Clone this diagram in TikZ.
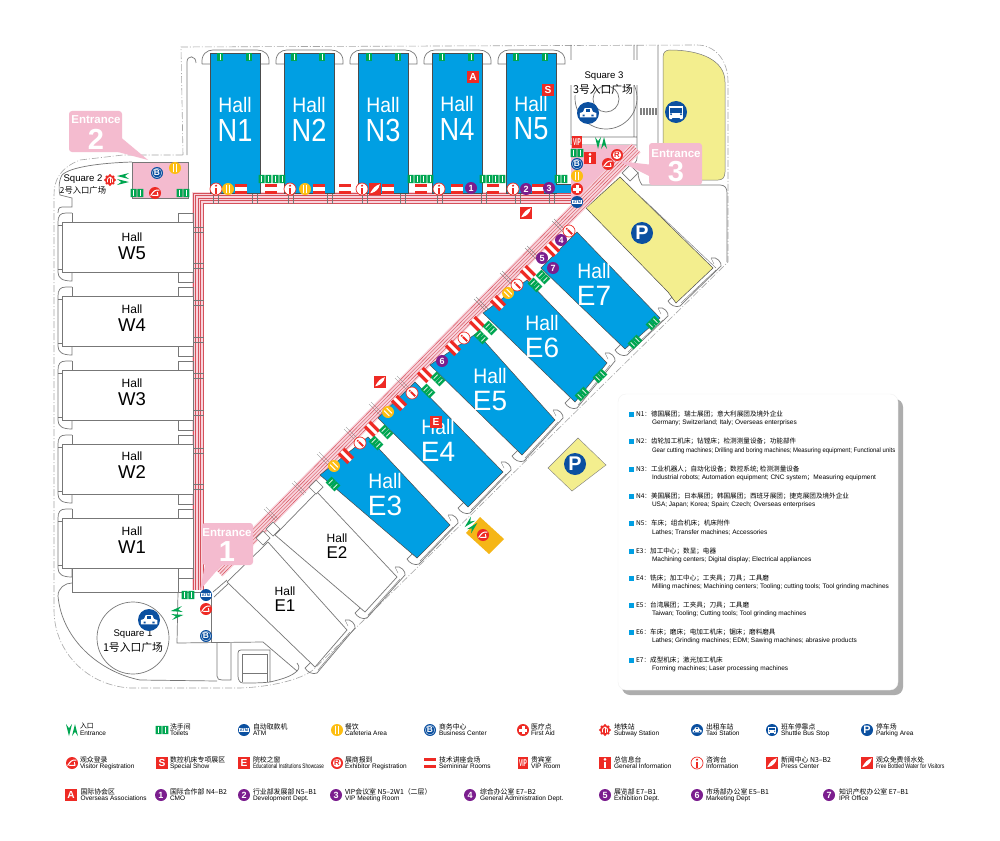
\documentclass[tikz,border=0pt]{standalone}
\usepackage{fontspec}
\setmainfont{Liberation Sans}
\newfontfamily\cjk{Noto Sans CJK SC}
\definecolor{hallblue}{HTML}{009FE3}
\definecolor{cred}{HTML}{EE2A24}
\definecolor{cblue}{HTML}{0B50A0}
\definecolor{cgreen}{HTML}{00A651}
\definecolor{cyel}{HTML}{FDBE12}
\definecolor{cpur}{HTML}{7B1E8E}
\definecolor{lot}{HTML}{F3EE8E}
\definecolor{pk}{HTML}{F4BBCF}
\definecolor{rdpk}{HTML}{F8D3DC}
\definecolor{rdln}{HTML}{D5505A}
\definecolor{gl}{HTML}{777777}
\definecolor{orng}{HTML}{F5B617}
\newcommand{\fs}[1]{\fontsize{#1}{#1}\selectfont}
\tikzset{
 rd/.style={draw=gl,line width=.7pt},
 bnd/.style={draw=gray!70,line width=.6pt,dash pattern=on 7pt off 2pt on 1pt off 2pt},
 tx/.style={inner sep=0pt,outer sep=0pt,black},
 itxt/.style={transform shape,inner sep=0pt,outer sep=0pt},
 pics/icinfo/.style={code={\fill[white](0,0)circle(10);\draw[cred,line width=.7pt](0,0)circle(10);
   \fill[cred](-1.7,-2.5)rectangle(1.7,7.5);\fill[cred](0,-5.5)circle(2);}},
 pics/iccafe/.style={code={\fill[cyel](0,0)circle(10);\draw[white,line width=1.1pt,line cap=round](-3,-6)--(-3,6)(3,-6)--(3,6);}},
 pics/icsem/.style={code={\fill[cred](-10,-9)rectangle(10,9);\fill[white](-10,-3)rectangle(10,3);}},
 pics/icseml/.style={code={\fill[cred](-11,-8)rectangle(11,8);\fill[white](-11,-2.5)rectangle(11,2.5);}},
 pics/icbiz/.style={code={\fill[cblue](0,0)circle(10);\draw[white,line width=.3pt](0,0)circle(8);\node[itxt,white,font=\bfseries\fs{14}]{B};}},
 pics/icatm/.style={code={\fill[cblue](0,0)circle(10);\fill[white](-9,-3.6)rectangle(9,3.6);\node[itxt,cblue,font=\bfseries\fs{6.5}]{ATM};}},
 pics/icvis/.style={code={\fill[cred](0,0)circle(10);\draw[white,line width=1pt,line cap=round](-7,4)..controls(-3,-3)and(1,-6)..(7,-5)(-4,4)--(5,4)(4,-1)--(5,4);}},
 pics/icent/.style={code={\fill[cgreen](-10,-10)--(-5,10)--(0,-10)--(-5,-3)--cycle;\fill[cgreen](0,10)--(5,-10)--(10,10)--(5,3)--cycle;}},
 pics/icl/.style={code={\fill[cred](-10,-10)rectangle(10,10);\node[itxt,white,font=\bfseries\fs{17}]{#1};}},
 pics/icn/.style={code={\fill[cpur](0,0)circle(10);\node[itxt,white,font=\bfseries\fs{15}]{#1};}},
 pics/icvip/.style={code={\fill[cred](-9,-10)rectangle(9,10);\node[itxt,white,font=\bfseries\fs{11}]{\scalebox{.75}[1.5]{VIP}};}},
 pics/icgen/.style={code={\fill[cred](-10,-10)rectangle(10,10);\fill[white](-2.2,-2.5)rectangle(2.2,8);\fill[white](0,-6)circle(2.4);}},
 pics/icpress/.style={code={\fill[cred](-10,-10)rectangle(10,10);\fill[white](-8,7)..controls(-4,-1)and(1,-6)..(8,-8)..controls(7,0)and(0,5)..(-4,6)--cycle;}},
 pics/icR/.style={code={\fill[cred](0,0)circle(10);\fill[white](0,0)circle(7);\node[itxt,cred,font=\bfseries\fs{13}]{R};}},
 pics/icaid/.style={code={\fill[cred](0,0)circle(10);\fill[white](-2.5,-6.5)rectangle(2.5,6.5);\fill[white](-6.5,-2.5)rectangle(6.5,2.5);}},
 pics/icsub/.style={code={\fill[cred](0,0)circle(8);\foreach \a in {0,45,...,315}{\fill[cred](\a:7.5)circle(2.6);}
   \draw[white,line width=.8pt](0,-5)--(0,5);\draw[white,line width=.8pt](-4,4)..controls(-5,-2)and(-3,-4)..(0,-5)..controls(3,-4)and(5,-2)..(4,4);}},
 pics/ictaxi/.style={code={\fill[cblue](0,0)circle(10);
   \fill[white](-7.5,4)--(-7.5,0)--(-4.5,-1)--(-3,-4.5)--(3,-4.5)--(4.5,-1)--(7.5,0)--(7.5,4)--cycle;
   \fill[cblue](-2.2,-3.4)rectangle(2.2,-1);\fill[cblue](-5,1.5)rectangle(-3,3)(3,1.5)rectangle(5,3);}},
 pics/icbus/.style={code={\fill[cblue](0,0)circle(10);\fill[white](-6.5,-5.5)rectangle(6.5,5);
   \fill[cblue](-5.2,-3.5)rectangle(5.2,.5);\fill[cblue](-4.5,2)circle(1)(4.5,2)circle(1);\fill[white](-6,5)rectangle(-3.5,6.5)(3.5,5)rectangle(6,6.5);}},
 pics/icP/.style={code={\fill[cblue](0,0)circle(10);\node[itxt,white,font=\bfseries\fs{18}]{P};}},
 pics/ictoil/.style={code={\fill[cgreen](-10.5,-7)rectangle(-.5,7)(.5,-7)rectangle(10.5,7);
   \draw[white,line width=.7pt,line cap=round](-5.5,-4.5)--(-5.5,4.5)(5.5,-4.5)--(5.5,4.5);}},
 pics/ictc/.style={code={\fill[cgreen](-5,-7)rectangle(5,7);\draw[white,line width=.7pt,line cap=round](0,-4.5)--(0,4.5);}}
}
\newcommand{\ic}[4][0]{\pic[scale=.6,rotate=#1,transform shape] at (#2,#3) {#4};}
\newcommand{\icb}[3]{\pic[scale=1.1,transform shape] at (#1,#2) {#3};}
\newcommand{\wcap}[1]{\draw[rd] (72,#1-9)--(66,#1-9)..controls(60,#1-9)and(58,#1-6)..(58,#1)--(58,#1+50)..controls(58,#1+56)and(62,#1+59)..(72,#1+59)--(72,#1+50);
 \draw[rd] (72,#1-9)--(72,#1) (62,#1)--(62,#1+50) (62,#1+3)--(58,#1+3) (62,#1+47)--(58,#1+47);}
\newcommand{\whall}[3]{\wcap{#1}\draw[rd,fill=white] (62,#1) rectangle (193,#1+50);
 \draw[rd] (178,#1-9) rectangle (193,#1) (178,#1+50) rectangle (193,#1+60);
 \node[tx,font=\fs{12}] (hall#2a) at (132,#3) {Hall};
 \node[tx,font=\fs{18.5}] (hall#2b) at (132,#3+16) {#2};}
\newcommand{\ecap}[4]{\draw[rd] (#1-2,#2-10)..controls(#1+4,#2-12)and(#1+9,#2-5)..(#1+8,#2-2)--(#3+2,#4+6)..controls(#3-2,#4+8)and(#3-8,#4+5)..(#3-10,#4+1)--(#3-4,#4-5);
 \draw[rd,line width=.4pt] (#1+3,#2+2)--(#3+3,#4+3) (#1-2,#2-10)--(#1+1,#2-4);}
\newcommand{\ncap}[1]{\draw[rd] (#1-8,64)..controls(#1-9,54)and(#1-3,50)..(#1+3,50)--(#1+47,50)..controls(#1+54,50)and(#1+60,54)..(#1+59,64)--(#1+50,64) (#1-8,64)--(#1,64);}
\newcommand{\nhall}[3]{\ncap{#1}\fill[hallblue,draw=black!70,line width=.5pt] (#1,53) rectangle (#1+50,193);
 \node[tx,white,font=\fs{21}] (hall#2a) at (#1+25,#3) {\scalebox{.92}[1]{Hall}};
 \node[tx,white,font=\fs{32}] (hall#2b) at (#1+25,#3+25) {\scalebox{.85}[1]{#2}};}
\newcommand{\ehall}[8]{\ecap{#3}{#4}{#5}{#6}\fill[hallblue,draw=black!70,line width=.5pt] (#1,#2)--(#3,#4)--(#5,#6)--(#7,#8)--cycle;}
\newcommand{\elbl}[3]{\node[tx,white,font=\fs{21}] (hall#1a) at (#2,#3) {\scalebox{.92}[1]{Hall}};
 \node[tx,white,font=\fs{28}] (hall#1b) at (#2,#3+25) {#1};}
\newcommand{\leg}[6]{\ic{#2}{#3}{#1}
 \node[tx,anchor=west,font=\cjk\fs{6.9}] at (#4,#3-3.6) {#5};
 \node[tx,anchor=west,font=\fs{6.5}] at (#4,#3+3.4) {#6};}
\newcommand{\plist}[3]{\fill[hallblue](628.5,#1-2.5)rectangle(633.5,#1+2.5);
 \node[tx,anchor=west,font=\cjk\fs{6.6}] at (636,#1) {#2};
 \node[tx,anchor=west,font=\fs{6.5}] at (652,#1+9.3) {#3};}
\begin{document}
\begin{tikzpicture}[x=1pt,y=-1pt]
\useasboundingbox (0,0) rectangle (1000,840);
\fill[white] (0,0) rectangle (1000,840);
% boundary
\draw[bnd] (183,155)--(181,47)--(697,45)..controls(715,45)and(728,60)..(728,82)--(728,262)--(313,670)..controls(300,680)and(270,687)..(240,688)--(130,688)..controls(85,685)and(54,650)..(54,610)--(54,195)..controls(54,180)and(60,168)..(80,160)--(123,155)--cycle;
% square 2 outline and north-west lines
\draw[rd] (187,155)--(187,62)..controls(187,55)and(196,55)..(196,63);
\draw[rd] (132,162)..controls(100,163)and(70,167)..(62,175)..controls(58,182)and(59,192)..(60,195)--(72,198)--(72,207)--(62,207)..controls(58,207)and(58,211)..(58,213);
% square 3
\draw[rd] (571,45)--(571,145) (637,45)--(637,158)..controls(637,162)and(634,164)..(630,166) (634,45)--(634,137) (571,137)--(637,137) (571,145)--(636,145) (658,45)--(658,150);
\draw[rd] (606,98) circle (31);
\fill[white] (570,60) rectangle (640,85);
\fill[white] (572,85) rectangle (630,95);
\draw[rd] (606,99) circle (13);
\foreach \x in {640,643,...,655}{\fill[gray](\x,108)rectangle(\x+1.5,115);}
% north yellow lot
\fill[lot,draw=gl,line width=.5pt] (663,57)..controls(663,52)and(666,50)..(670,50)..controls(700,50)and(725,60)..(725,82)--(725,172)..controls(725,178)and(722,180)..(718,180)--(663,180)--cycle;
% SE lines
\draw[rd] (638,172)..controls(638,178)and(640,182)..(642,185)--(720,185)..controls(725,185)and(727,188)..(727,193)--(727,262);
% parking lot
\ecap{713}{268}{678}{300}
\fill[lot,draw=black!70,line width=.5pt] (620,177)--(713,268)--(676,303)--(668,292)--(586,208)--cycle;
\draw[rd,line width=.4pt] (642,198)--(716,268);
\draw[rd,fill=white] (630,165)--(638,173)--(630,181)--(622,173)--cycle;
% pink plazas
\fill[pk] (571,145)--(636,145)--(583,200)--(571,200)--cycle;
\fill[pk,draw=gl,line width=.6pt] (132,162) rectangle (188,198);
% plaza 1 box
\draw[rd] (178,592)--(177,643)--(263,642)--(297,671)..controls(300,668)and(299,666)..(297,663);
\draw[rd] (211,597)--(211,643) (178,592)--(211,592);
\draw[rd] (297,671)..controls(292,676)and(283,679)..(270,682)..controls(262,683)and(252,683)..(243,683)..controls(240,683)and(238,680)..(238,676)--(238,653)..controls(238,651)and(239,650)..(241,650)--(270,650)--(270,682);
\draw[rd] (242,682)--(242,654)--(267,654)--(267,682) (242,673)--(267,673);
\draw[rd] (217,643)--(217,676)..controls(217,679)and(219,680)..(222,680)--(231,680)--(231,643);
\draw[rd] (72,583)..controls(65,583)and(58,588)..(58,596)..controls(62,640)and(100,672)..(140,680)--(217,681);
\draw[rd] (213,592)--(227,580) (214,597)--(229,583);
\draw[rd,fill=white] (133,638) circle (36);
% road bands
\draw[rdpk,line width=12pt] (571,198)--(198,198)--(198,590);
\draw[rdpk,line width=13pt] (636,148)--(218,572);
\foreach \o in {0,2.5,5,7.5,10}{\draw[rdln,line width=.4pt] (571,193+\o)--(193+\o,193+\o)--(193+\o,590);}
\foreach \o in {-5,-2.5,0,2.5,5}{\draw[rdln,line width=.4pt,shift={({\o*.71},{\o*.7})}] (636,148)--(218,572);}
\foreach \x in {213,252,288,327,362,400,437,481,515,549}{\draw[gl,line width=.35pt] (\x,192)--(\x,204) (\x+5,192)--(\x+5,204);}
\foreach \y in {227,263,300,337,373,410,448,484}{\draw[gl,line width=.35pt] (192,\y)--(204,\y) (192,\y+5)--(204,\y+5);}
\foreach \x/\y in {272/513,300/487,325/458,352/433,377/408,403/382,482/303,508/277,533/252,560/225}{\draw[gl,line width=.35pt] (\x-6,\y-6)--(\x+6,\y+6) (\x-8,\y-4)--(\x+4,\y+8);}
% West halls
\whall{222}{W5}{237}\whall{296}{W4}{309}\whall{370}{W3}{383}\whall{444}{W2}{456}\whall{518}{W1}{531}
\draw[rd] (72,568)--(72,592)--(178,592)--(178,568);
% North halls
\nhall{210}{N1}{105}\nhall{284}{N2}{105}\nhall{358}{N3}{105}\nhall{432}{N4}{104}\nhall{506}{N5}{104}
\fill[hallblue] (556,184) rectangle (571,193);
\draw[black!70,line width=.5pt] (556,184)--(571,184);
% East white halls
\ecap{347}{630}{315}{667}\ecap{397}{577}{365}{612}
\draw[rd,fill=white] (268,542)--(347,630)--(315,667)--(227,582)--cycle;
\draw[rd,fill=white] (317,492)--(397,577)--(365,612)--(275,535)--cycle;
\foreach \x/\y in {263/538,273/529,316/487}{\draw[rd,fill=white] (\x,\y-7)--(\x+7,\y)--(\x,\y+7)--(\x-7,\y)--cycle;}
\node[tx,font=\fs{12}] (hallE1a) at (285,591) {Hall};
\node[tx,font=\fs{17}] (hallE1b) at (285,606) {E1};
\node[tx,font=\fs{12}] (hallE2a) at (337,538) {Hall};
\node[tx,font=\fs{17}] (hallE2b) at (337,553) {E2};
% East blue halls
\ehall{368}{437}{450}{525}{417}{558}{320}{475}
\ehall{415}{382}{503}{472}{468}{507}{378}{418}
\ehall{477}{333}{555}{420}{522}{455}{430}{365}
\ehall{527}{280}{607}{363}{575}{402}{483}{313}
\ehall{577}{232}{660}{318}{625}{349}{541}{268}
\elbl{E3}{385}{481}\elbl{E4}{438}{427}\elbl{E5}{490}{376}\elbl{E6}{542}{323}\elbl{E7}{594}{271}
% diamonds
\fill[lot,draw=gray,line width=.4pt] (578,438)--(606,465)--(572,491)--(548,468)--cycle;
\fill[orng] (480,517)--(504,539)--(489,554)--(466,533)--cycle;
% square texts
\node[tx,font=\fs{9.6}] at (83,179) {Square 2};
\node[tx,font=\cjk\fs{8.3}] at (83,190) {2号入口广场};
\node[tx,font=\fs{9.6}] at (604,76) {Square 3};
\node[tx,font=\cjk\fs{10.8}] at (603,89) {3号入口广场};
\node[tx,font=\fs{9.6}] at (133,634) {Square 1};
\node[tx,font=\cjk\fs{10.8}] at (133,647) {1号入口广场};
% big icons
\icb{588}{113}{ictaxi}\icb{149}{620}{ictaxi}\icb{676}{112}{icbus}\icb{642}{233}{icP}\icb{575}{464}{icP}
% north icons
\foreach \x in {216,290,362,439,513}{\ic{\x}{189}{icinfo}}
\foreach \x in {228,305}{\ic{\x}{189}{iccafe}}
\foreach \x in {241,271,319,345,388,421,457,493,538}{\ic{\x}{189}{icsem}}
\ic{375}{189}{icpress}
\ic{471}{188}{icn=1}\ic{526}{189}{icn=2}\ic{549}{188}{icn=3}
\foreach \x in {220,249,294,322,369,398,442,471,516,545}{\ic{\x}{57}{ictc}}
\foreach \x in {265,414,486,499,561}{\ic{\x}{179}{ictoil}}
\ic{279}{179}{ictoil}\ic{427}{179}{ictoil}
\ic{473}{77}{icl=A}\ic{548}{90}{icl=S}
% plaza 3 icons
\ic{577}{142}{icvip}\ic{577}{153}{ictoil}\ic{577}{164}{icbiz}\ic{577}{176}{iccafe}\ic{577}{189}{icaid}\ic{577}{202}{icatm}
\ic{590}{158}{icgen}\ic{617}{155}{icR}\ic{608}{164}{icvis}\ic{601}{143}{icent}
% plaza 2
\ic{110}{180}{icsub}\ic[90]{123}{179}{icent}\ic{157}{173}{icbiz}\ic{175}{168}{iccafe}\ic{155}{193}{icvis}\ic{137}{193}{ictoil}\ic{183}{193}{ictoil}
% plaza 1
\ic{188}{595}{ictoil}\ic{206}{595}{icatm}\ic{206}{609}{icvis}\ic{206}{636}{icbiz}\ic[-80]{177}{613}{icent}
% press
\ic{526}{213}{icpress}\ic{380}{382}{icpress}
% diag icons
\foreach \x/\y in {346/456,372/429,399/403,425/375,453/348,477/324,498/303,528/273,552/249}{\ic[-45]{\x}{\y}{icseml}}
\foreach \x/\y in {360/443,412/393,464/338,517/285,569/231}{\ic[45]{\x}{\y}{icinfo}}
\foreach \x/\y in {334/466,388/412,508/293}{\ic[45]{\x}{\y}{iccafe}}
\foreach \x/\y in {333/484,376/443,386/432,428/391,438/379,481/337,490/328,535/285,543/277}{\ic[-45]{\x}{\y}{ictoil}}
\foreach \x/\y in {653/323,635/342,600/376,582/394}{\ic[45]{\x}{\y}{ictoil}}
\ic{442}{361}{icn=6}\ic{542}{258}{icn=5}\ic{553}{268}{icn=7}\ic{561}{240}{icn=4}
\ic{436}{422}{icl=E}
\ic[-45]{471}{525}{icent}\ic{483}{535}{icvis}
% callouts
\fill[pk,rounded corners=3pt] (202,523) rectangle (253,565);
\fill[pk] (206,560)--(200,590)--(226,560)--cycle;
\node[tx,white,font=\bfseries\fs{11.5}] at (227,533) {Entrance};
\node[tx,white,font=\bfseries\fs{29}] at (227,552) {1};
\fill[pk,rounded corners=3pt] (69,111) rectangle (122,152);
\fill[pk] (118,135)--(148,160)--(118,152)--cycle;
\node[tx,white,font=\bfseries\fs{11.5}] at (96,120) {Entrance};
\node[tx,white,font=\bfseries\fs{29}] at (96,139) {2};
\fill[pk,rounded corners=3pt] (649,143) rectangle (702,185);
\fill[pk] (653,165)--(619,161)--(653,178)--cycle;
\node[tx,white,font=\bfseries\fs{11.5}] at (676,154) {Entrance};
\node[tx,white,font=\bfseries\fs{29}] at (676,172) {3};
% list panel
\fill[black!32,rounded corners=8pt] (622,399) rectangle (903,695);
\fill[white,draw=black!5,line width=.4pt,rounded corners=8pt] (618,394) rectangle (898,690);
\plist{414}{N1：德国展团；瑞士展团；意大利展团及境外企业}{Germany; Switzerland; Italy; Overseas enterprises}
\plist{441.6}{N2：齿轮加工机床；钻镗床；检测测量设备；功能部件}{\scalebox{.915}[1]{Gear cutting machines; Drilling and boring machines; Measuring equipment; Functional units}}
\plist{469}{N3：工业机器人；自动化设备；数控系统; 检测测量设备}{Industrial robots; Automation equipment; CNC system{\cjk；}Measuring equipment}
\plist{496}{N4：美国展团；日本展团；韩国展团；西班牙展团；捷克展团及境外企业}{USA; Japan; Korea; Spain; Czech; Overseas enterprises}
\plist{523}{N5：车床；组合机床；机床附件}{Lathes; Transfer machines; Accessories}
\plist{551}{E3：加工中心；数显；电器}{Machining centers; Digital display; Electrical appliances}
\plist{578}{E4：铣床；加工中心；工夹具；刀具；工具磨}{Milling machines; Machining centers; Tooling; cutting tools; Tool grinding machines}
\plist{605}{E5：台湾展团；工夹具；刀具；工具磨}{Taiwan; Tooling; Cutting tools; Tool grinding machines}
\plist{632}{E6：车床；磨床；电加工机床；锯床；磨料磨具}{Lathes; Grinding machines; EDM; Sawing machines; abrasive products}
\plist{660}{E7：成型机床；激光加工机床}{Forming machines; Laser processing machines}
% legend rows
\leg{icent}{72}{730}{80}{入口}{Entrance}
\leg{ictoil}{162}{730}{170}{洗手间}{Toilets}
\leg{icatm}{244}{730}{253}{自动取款机}{ATM}
\leg{iccafe}{337}{730}{345}{餐饮}{Cafeteria Area}
\leg{icbiz}{430}{730}{439}{商务中心}{Business Center}
\leg{icaid}{523}{730}{531}{医疗点}{First Aid}
\leg{icsub}{605}{730}{614}{地铁站}{Subway Station}
\leg{ictaxi}{697}{730}{706}{出租车站}{Taxi Station}
\leg{icbus}{772}{730}{781}{班车停靠点}{Shuttle Bus Stop}
\leg{icP}{867}{730}{876}{停车场}{Parking Area}
\leg{icvis}{72}{763}{80}{观众登录}{Visitor Registration}
\leg{icl=S}{162}{763}{170}{数控机床专项展区}{Special Show}
\leg{icl=E}{244}{763}{253}{院校之窗}{\scalebox{.72}[1]{Educational Institutions Showcase}}
\leg{icR}{337}{763}{345}{展商报到}{Exhibitor Registration}
\leg{icsem}{430}{763}{439}{技术讲座会场}{Semininar Rooms}
\leg{icvip}{523}{763}{531}{贵宾室}{VIP Room}
\leg{icgen}{605}{763}{614}{总信息台}{General Information}
\leg{icinfo}{697}{763}{706}{咨询台}{Information}
\leg{icpress}{772}{763}{781}{新闻中心 N3–B2}{Press Center}
\leg{icpress}{867}{763}{876}{观众免费领水处}{\scalebox{.79}[1]{Free Bottled Water for Visitors}}
\leg{icl=A}{71}{795}{80.5}{国际协会区}{Overseas Associations}
\leg{icn=1}{161}{795}{170}{国际合作部 N4–B2}{CMO}
\leg{icn=2}{244}{795}{253}{行业部发展部 N5–B1}{Development Dept.}
\leg{icn=3}{336}{795}{345}{VIP会议室 N5–2W1（二层）}{VIP Meeting Room}
\leg{icn=4}{470}{795}{480}{综合办公室 E7–B2}{General Administration Dept.}
\leg{icn=5}{605}{795}{614}{展览部 E7–B1}{Exhibition Dept.}
\leg{icn=6}{697}{795}{706}{市场部办公室 E5–B1}{Marketing Dept}
\leg{icn=7}{829}{795}{839}{知识产权办公室 E7–B1}{IPR Office}
\end{tikzpicture}
\end{document}
